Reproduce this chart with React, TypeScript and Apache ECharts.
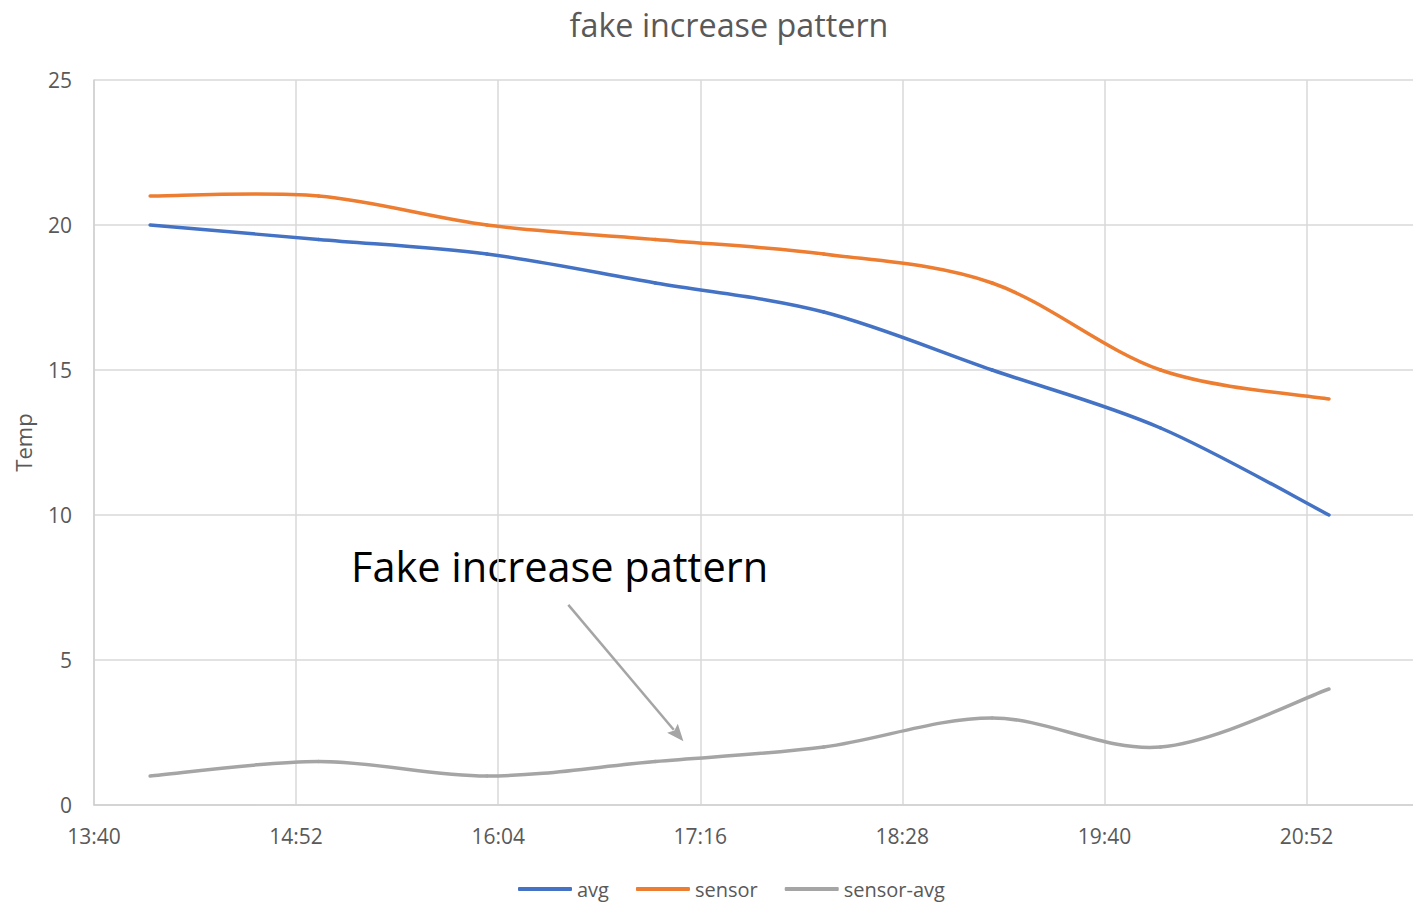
import React, { useEffect, useRef } from "react";
import * as echarts from "echarts";

// ---- data ----
const times = ["14:00", "15:00", "16:00", "17:00", "18:00", "19:00", "20:00", "21:00"];
const avg = [20, 19.5, 19, 18, 17, 15, 13, 10];
const sensor = [21, 21, 20, 19.5, 19, 18, 15, 14];
const sensorAvg = [1, 1.5, 1, 1.5, 2, 3, 2, 4];
const seriesNames = ["avg", "sensor", "sensor-avg"];
const seriesColors = ["#4472C4", "#ED7D31", "#A5A5A5"];
const xStart = "13:40";
const xEnd = "21:36";
const xStepMinutes = 72;
const yMin = 0;
const yMax = 25;
const yStep = 5;
const titleText = "fake increase pattern";
const yName = "Temp";
const noteText = "Fake increase pattern";
// arrow annotation (time, value): from -> to
const arrowTimes = ["16:29", "17:10"];
const arrowValues = [6.9, 2.2];

const toMin = (t: string) => {
  const [h, m] = t.split(":").map(Number);
  return h * 60 + m;
};
const fmt = (v: number) => {
  const h = Math.floor(v / 60);
  const m = Math.round(v - h * 60);
  return `${h}:${m < 10 ? "0" : ""}${m}`;
};

const FONT = "'Open Sans', 'Noto Sans', sans-serif";
const TXT = "#595959";

// Smooth (Catmull-Rom style, like a spreadsheet "smoothed line") series drawn through the axes
function smoothSeries(name: string, values: number[], color: string) {
  const xs = times.map(toMin);
  return {
    name,
    type: "custom",
    coordinateSystem: "cartesian2d",
    itemStyle: { color },
    encode: { x: 0, y: 1 },
    silent: true,
    data: values.map((v, j) => [xs[j], v]),
    renderItem: (params: any, api: any) => {
      const i = params.dataIndex;
      const n = values.length;
      if (i >= n - 1) return null;
      const P = (k: number) => {
        const c = Math.max(0, Math.min(n - 1, k));
        return api.coord([xs[c], values[c]]);
      };
      const p0 = P(i - 1), p1 = P(i), p2 = P(i + 1), p3 = P(i + 2);
      const t = 1 / 6;
      return {
        type: "bezierCurve",
        shape: {
          x1: p1[0], y1: p1[1],
          x2: p2[0], y2: p2[1],
          cpx1: p1[0] + (p2[0] - p0[0]) * t,
          cpy1: p1[1] + (p2[1] - p0[1]) * t,
          cpx2: p2[0] - (p3[0] - p1[0]) * t,
          cpy2: p2[1] - (p3[1] - p1[1]) * t,
        },
        style: { stroke: color, lineWidth: 3.5, fill: null, lineCap: "round" },
      };
    },
  };
}

function arrowSeries() {
  const pts = arrowTimes.map((t, j) => [toMin(t), arrowValues[j]]);
  return {
    name: "arrow",
    type: "custom",
    coordinateSystem: "cartesian2d",
    silent: true,
    encode: { x: 0, y: 1 },
    data: pts,
    renderItem: (params: any, api: any) => {
      if (params.dataIndex !== 0) return null;
      const a = api.coord(pts[0]);
      const b = api.coord(pts[1]);
      const dx = b[0] - a[0], dy = b[1] - a[1];
      const L = Math.sqrt(dx * dx + dy * dy);
      const ux = dx / L, uy = dy / L;
      const hl = 17, hw = 7;
      const bx = b[0] - ux * hl, by = b[1] - uy * hl;
      return {
        type: "group",
        children: [
          {
            type: "line",
            shape: { x1: a[0], y1: a[1], x2: bx + ux * 2, y2: by + uy * 2 },
            style: { stroke: "#A5A5A5", lineWidth: 2.5 },
          },
          {
            type: "polygon",
            shape: {
              points: [
                [b[0], b[1]],
                [bx - uy * hw, by + ux * hw],
                [bx + ux * 3, by + uy * 3],
                [bx + uy * hw, by - ux * hw],
              ],
            },
            style: { fill: "#A5A5A5" },
          },
        ],
      };
    },
  };
}

export default function App() {
  const ref = useRef<HTMLDivElement>(null);
  useEffect(() => {
    if (!ref.current) return;
    const chart = echarts.init(ref.current, undefined, { renderer: "svg" });
    const x0 = toMin(xStart);
    const lists = [avg, sensor, sensorAvg];
    chart.setOption({
      animation: false,
      backgroundColor: "#ffffff",
      textStyle: { fontFamily: FONT },
      title: {
        text: titleText,
        left: 724,
        textAlign: "center",
        top: 3,
        textStyle: { fontSize: 32.3, fontWeight: "normal", color: TXT, fontFamily: FONT },
      },
      legend: {
        data: seriesNames,
        left: 518,
        top: 879,
        padding: 0,
        icon: "roundRect",
        itemWidth: 54,
        itemHeight: 4,
        itemGap: 27,
        textStyle: { fontSize: 20, color: TXT, fontFamily: FONT },
      },
      grid: {
        left: 94,
        width: 1336,
        top: 80,
        bottom: 98,
        containLabel: false,
        outerBoundsMode: "none",
      },
      xAxis: {
        type: "value",
        min: x0,
        max: toMin(xEnd),
        interval: xStepMinutes,
        axisLine: { show: true, lineStyle: { color: "#d0d0d0", width: 1.5 } },
        axisTick: { show: false },
        splitLine: { show: true, lineStyle: { color: "#d9d9d9", width: 1.5 } },
        axisLabel: {
          margin: 20,
          fontSize: 21,
          color: TXT,
          fontFamily: FONT,
          formatter: (v: number) => ((v - x0) % xStepMinutes === 0 ? fmt(v) : ""),
        },
      },
      yAxis: {
        type: "value",
        min: yMin,
        max: yMax,
        interval: yStep,
        name: yName,
        nameLocation: "middle",
        nameGap: 60,
        nameTextStyle: { fontSize: 22, color: TXT, fontFamily: FONT },
        axisLine: { show: true, lineStyle: { color: "#d0d0d0", width: 1.5 } },
        axisTick: { show: false },
        splitLine: { show: true, lineStyle: { color: "#d9d9d9", width: 1.5 } },
        axisLabel: { margin: 22, fontSize: 21, color: TXT, fontFamily: FONT },
      },
      series: [
        ...seriesNames.map((name, i) => smoothSeries(name, lists[i], seriesColors[i])),
        arrowSeries(),
      ],
      graphic: [
        {
          type: "text",
          left: 351,
          top: 545,
          style: { text: noteText, fontSize: 41.5, fill: "#000000", fontFamily: FONT },
        },
      ],
    });
    return () => chart.dispose();
  }, []);
  return (
    <div
      ref={ref}
      style={{ position: "fixed", left: 0, top: 0, width: 1413, height: 903, background: "#fff" }}
    />
  );
}
